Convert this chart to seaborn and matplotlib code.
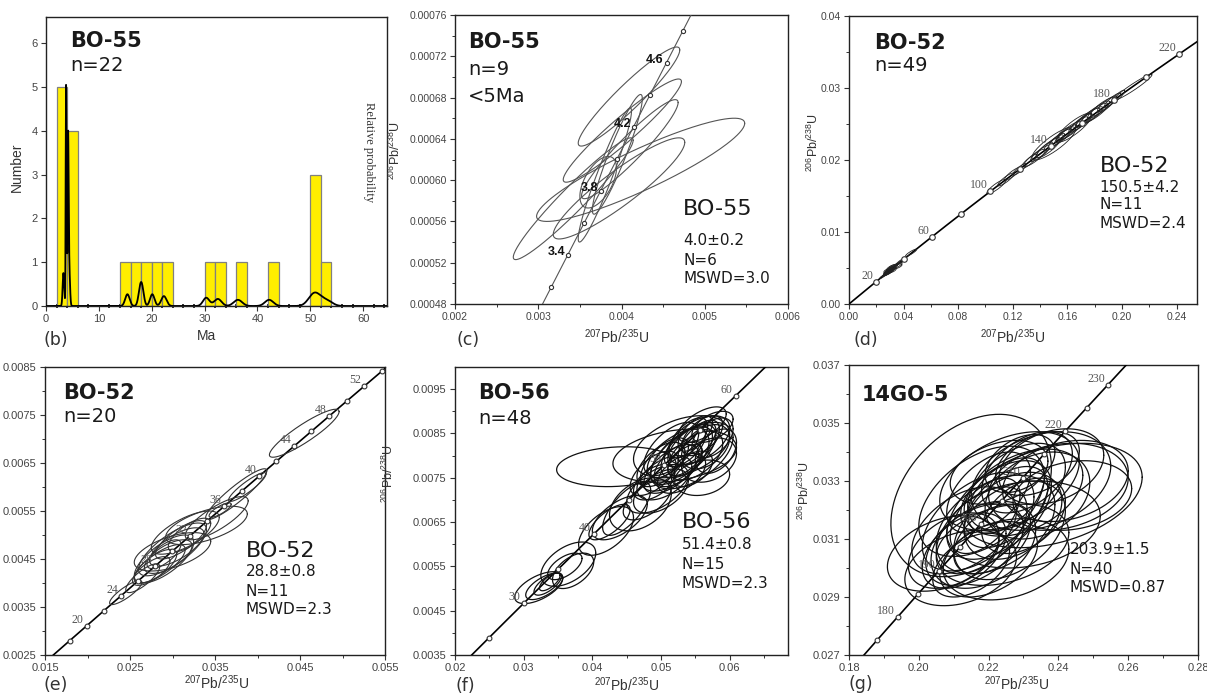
import numpy as np
import pandas as pd
import matplotlib
matplotlib.use("Agg")
import matplotlib.pyplot as plt
import seaborn as sns

# ---------------- data ----------------
# (b) BO-55 single grain ages (Ma) and 1-sigma errors
b_ages = [3.3, 3.75, 3.8, 3.85, 3.9, 4.15, 4.2, 4.25, 4.4,
          15.4, 17.8, 18.2, 20.1, 22.3, 30.3, 32.5, 36.3, 42.2,
          50.3, 50.8, 51.5, 53.2]
b_sigma = [0.15, 0.06, 0.06, 0.08, 0.10, 0.07, 0.08, 0.10, 0.15,
           0.42, 0.35, 0.35, 0.42, 0.50, 0.60, 0.70, 0.80, 0.80,
           1.0, 1.0, 1.0, 1.0]
b_bin_edges = list(range(0, 66, 2))

# decay constants (1/Ma)
L235 = 9.8485e-4
L238 = 1.55125e-4

# (c) BO-55 (<5 Ma) ellipses: centre, half-extent in x / y, correlation
c_cx = [0.00409, 0.00401, 0.00410, 0.00423, 0.00397, 0.00342, 0.00380, 0.00372, 0.00395]
c_cy = [0.000681, 0.000648, 0.000630, 0.000610, 0.000592, 0.000582, 0.000605, 0.000598, 0.000625]
c_sx = [0.00061, 0.00071, 0.00058, 0.00125, 0.00079, 0.00072, 0.00032, 0.00022, 0.00030]
c_sy = [0.000048, 0.000050, 0.000048, 0.000050, 0.000049, 0.000059, 0.000065, 0.000025, 0.000058]
c_rho = [0.94, 0.95, 0.94, 0.90, 0.91, 0.96, 0.95, 0.55, 0.93]
c_marks = [3.2, 3.4, 3.6, 3.8, 4.0, 4.2, 4.4, 4.6, 4.8]
c_labels = [3.4, 3.8, 4.2, 4.6]

# (e) BO-52 young grains (also part of panel d)
e_cx = [0.0455, 0.0375, 0.0388, 0.0340, 0.0352, 0.0356, 0.0245,
        0.0300, 0.0290, 0.0285, 0.0280, 0.0295, 0.0305, 0.0290, 0.0275,
        0.0310, 0.0320, 0.0265, 0.0300, 0.0315]
e_cy = [0.00712, 0.00585, 0.00600, 0.00520, 0.00535, 0.00552, 0.00380,
        0.00470, 0.00450, 0.00440, 0.00435, 0.00455, 0.00475, 0.00460, 0.00425,
        0.00490, 0.00500, 0.00410, 0.00465, 0.00505]
e_sx = [0.0041, 0.0036, 0.0022, 0.0048, 0.0037, 0.0013, 0.0019,
        0.0040, 0.0035, 0.0030, 0.0025, 0.0028, 0.0032, 0.0020, 0.0022,
        0.0030, 0.0025, 0.0020, 0.0045, 0.0040]
e_sy = [0.00050, 0.00053, 0.00030, 0.00040, 0.00045, 0.00015, 0.00025,
        0.00055, 0.00050, 0.00040, 0.00035, 0.00035, 0.00040, 0.00030, 0.00030,
        0.00040, 0.00035, 0.00030, 0.00040, 0.00045]
e_rho = [0.90, 0.92, 0.90, 0.60, 0.80, 0.80, 0.85,
         0.75, 0.70, 0.75, 0.70, 0.65, 0.70, 0.70, 0.70,
         0.75, 0.70, 0.80, 0.55, 0.70]
e_marks = list(range(18, 56, 2))
e_labels = [20, 24, 28, 32, 36, 40, 44, 48, 52]

# (d) BO-52 older grains (together with the young ones above: n=49)
d_cx = [0.108, 0.115, 0.120, 0.125, 0.132, 0.136, 0.140, 0.143, 0.146, 0.150,
        0.150, 0.152, 0.155, 0.157, 0.160, 0.162, 0.165, 0.168, 0.170, 0.172,
        0.175, 0.178, 0.180, 0.183, 0.186, 0.189, 0.193, 0.197, 0.208]
d_cy = [0.0163, 0.0173, 0.0181, 0.0187, 0.0198, 0.0203, 0.0209, 0.0214, 0.0217, 0.0223,
        0.0224, 0.0227, 0.0231, 0.0234, 0.0238, 0.0241, 0.0245, 0.0249, 0.0252, 0.0255,
        0.0259, 0.0262, 0.0265, 0.0270, 0.0274, 0.0278, 0.0283, 0.0288, 0.0301]
d_sx = [0.007, 0.006, 0.006, 0.005, 0.006, 0.008, 0.007, 0.006, 0.009, 0.016,
        0.007, 0.006, 0.008, 0.006, 0.007, 0.009, 0.013, 0.007, 0.008, 0.006,
        0.009, 0.008, 0.010, 0.008, 0.009, 0.007, 0.006, 0.005, 0.014]
d_sy = [0.0010, 0.0009, 0.0009, 0.0008, 0.0010, 0.0012, 0.0011, 0.0011, 0.0014, 0.0023,
        0.0011, 0.0010, 0.0012, 0.0010, 0.0011, 0.0013, 0.0020, 0.0011, 0.0012, 0.0010,
        0.0013, 0.0012, 0.0014, 0.0012, 0.0013, 0.0011, 0.0010, 0.0009, 0.0018]
d_rho = [0.88, 0.88, 0.88, 0.87, 0.87, 0.87, 0.86, 0.86, 0.86, 0.85,
         0.86, 0.87, 0.86, 0.87, 0.86, 0.86, 0.85, 0.87, 0.86, 0.87,
         0.86, 0.86, 0.86, 0.87, 0.86, 0.87, 0.88, 0.88, 0.96]
d_marks = list(range(20, 240, 20))
d_labels = [20, 60, 100, 140, 180, 220]

# (f) BO-56
f_cx = [0.0322, 0.0330, 0.0335, 0.0338, 0.0365, 0.0360, 0.0372, 0.0420, 0.0425, 0.0440,
        0.0450, 0.0470, 0.0435, 0.0500, 0.0480, 0.0520, 0.0530, 0.0540, 0.0525, 0.0515,
        0.0535, 0.0545, 0.0550, 0.0510, 0.0500, 0.0555, 0.0560, 0.0550, 0.0540, 0.0490,
        0.0505, 0.0530, 0.0545, 0.0565, 0.0575, 0.0570, 0.0560, 0.0520, 0.0530, 0.0545,
        0.0555, 0.0490, 0.0495, 0.0515, 0.0560, 0.0575, 0.0580, 0.0535]
f_cy = [0.00502, 0.00505, 0.00510, 0.00515, 0.00555, 0.00550, 0.00540, 0.00630, 0.00650, 0.00660,
        0.00680, 0.00690, 0.00775, 0.00720, 0.00700, 0.00790, 0.00800, 0.00810, 0.00780, 0.00770,
        0.00820, 0.00825, 0.00800, 0.00795, 0.00780, 0.00830, 0.00845, 0.00850, 0.00840, 0.00760,
        0.00750, 0.00760, 0.00770, 0.00820, 0.00840, 0.00790, 0.00750, 0.00800, 0.00820, 0.00800,
        0.00835, 0.00740, 0.00725, 0.00815, 0.00870, 0.00865, 0.00810, 0.00790]
f_sx = [0.0035, 0.0027, 0.0020, 0.0015, 0.0040, 0.0025, 0.0030, 0.0040, 0.0030, 0.0040,
        0.0035, 0.0045, 0.0087, 0.0040, 0.0035, 0.0050, 0.0045, 0.0040, 0.0035, 0.0040,
        0.0030, 0.0035, 0.0040, 0.0030, 0.0035, 0.0030, 0.0030, 0.0025, 0.0028, 0.0035,
        0.0040, 0.0035, 0.0030, 0.0035, 0.0030, 0.0040, 0.0040, 0.0090, 0.0070, 0.0060,
        0.0045, 0.0030, 0.0045, 0.0040, 0.0035, 0.0030, 0.0030, 0.0025]
f_sy = [0.00036, 0.00030, 0.00025, 0.00020, 0.00050, 0.00030, 0.00040, 0.00055, 0.00040, 0.00050,
        0.00060, 0.00060, 0.00045, 0.00050, 0.00045, 0.00070, 0.00065, 0.00060, 0.00050, 0.00055,
        0.00045, 0.00050, 0.00055, 0.00045, 0.00050, 0.00050, 0.00045, 0.00040, 0.00045, 0.00050,
        0.00050, 0.00045, 0.00040, 0.00050, 0.00045, 0.00050, 0.00040, 0.00060, 0.00070, 0.00075,
        0.00055, 0.00040, 0.00055, 0.00060, 0.00040, 0.00035, 0.00050, 0.00035]
f_rho = [0.60, 0.65, 0.70, 0.70, 0.50, 0.60, 0.50, 0.55, 0.70, 0.60,
         0.70, 0.40, 0.15, 0.50, 0.60, 0.60, 0.65, 0.60, 0.55, 0.60,
         0.60, 0.65, 0.50, 0.55, 0.55, 0.60, 0.55, 0.60, 0.60, 0.60,
         0.50, 0.50, 0.45, 0.40, 0.45, 0.30, 0.20, 0.30, 0.40, 0.55,
         0.50, 0.50, 0.55, 0.60, 0.60, 0.50, 0.40, 0.60]
f_marks = list(range(25, 65, 5))
f_labels = [30, 40, 50, 60]

# (g) 14GO-5
g_cx = [0.2150, 0.2380, 0.2070, 0.2120, 0.2230, 0.2180, 0.2280, 0.2250, 0.2160, 0.2220,
        0.2300, 0.2350, 0.2400, 0.2420, 0.2240, 0.2300, 0.2200, 0.2130, 0.2190, 0.2250,
        0.2310, 0.2340, 0.2260, 0.2180, 0.2170, 0.2270, 0.2210, 0.2150, 0.2340, 0.2290,
        0.2230, 0.2380, 0.2185, 0.2260, 0.2130, 0.2300, 0.2200, 0.2440, 0.2100, 0.2250]
g_cy = [0.03250, 0.03250, 0.03050, 0.03000, 0.03200, 0.03130, 0.03280, 0.03210, 0.03080, 0.03150,
        0.03260, 0.03300, 0.03280, 0.03300, 0.03080, 0.03150, 0.03030, 0.03060, 0.03180, 0.03250,
        0.03330, 0.03360, 0.03300, 0.03230, 0.03160, 0.03180, 0.03100, 0.03010, 0.03250, 0.03360,
        0.03330, 0.03350, 0.03080, 0.03130, 0.03130, 0.03180, 0.03260, 0.03250, 0.03060, 0.03030]
g_sx = [0.0230, 0.0260, 0.0160, 0.0160, 0.0150, 0.0130, 0.0140, 0.0120, 0.0140, 0.0170,
        0.0170, 0.0200, 0.0200, 0.0180, 0.0190, 0.0220, 0.0140, 0.0120, 0.0100, 0.0110,
        0.0130, 0.0120, 0.0200, 0.0180, 0.0160, 0.0140, 0.0110, 0.0110, 0.0150, 0.0100,
        0.0140, 0.0150, 0.0150, 0.0160, 0.0150, 0.0120, 0.0120, 0.0170, 0.0130, 0.0180]
g_sy = [0.00280, 0.00180, 0.00130, 0.00130, 0.00170, 0.00150, 0.00150, 0.00140, 0.00140, 0.00170,
        0.00150, 0.00170, 0.00150, 0.00140, 0.00140, 0.00150, 0.00130, 0.00130, 0.00130, 0.00130,
        0.00140, 0.00110, 0.00170, 0.00190, 0.00170, 0.00150, 0.00120, 0.00110, 0.00150, 0.00100,
        0.00110, 0.00130, 0.00150, 0.00170, 0.00150, 0.00130, 0.00140, 0.00120, 0.00130, 0.00140]
g_rho = [0.35, 0.35, 0.35, 0.30, 0.50, 0.50, 0.45, 0.50, 0.45, 0.40,
         0.40, 0.30, 0.20, 0.25, 0.30, 0.20, 0.40, 0.45, 0.55, 0.50,
         0.45, 0.40, 0.40, 0.45, 0.50, 0.35, 0.45, 0.45, 0.30, 0.40,
         0.35, 0.30, 0.35, 0.40, 0.45, 0.40, 0.50, 0.20, 0.40, 0.25]
g_marks = list(range(175, 235, 5))
g_labels = [180, 190, 200, 210, 220, 230]

# ---------------- helpers ----------------
sns.set_theme(style="white")
plt.rcParams['font.family'] = ['Liberation Sans', 'DejaVu Sans']
plt.rcParams['mathtext.fontset'] = 'custom'
plt.rcParams['mathtext.rm'] = 'Liberation Sans'

W, H = 1207, 698
fig = plt.figure(figsize=(W / 100, H / 100), dpi=100)
fig.patch.set_facecolor('white')


def pax(l, t, r, b):
    return fig.add_axes([l / W, 1 - b / H, (r - l) / W, (b - t) / H])


def conc(t):
    t = np.asarray(t, dtype=float)
    return np.expm1(L235 * t), np.expm1(L238 * t)


def ellipse_frame(cx, cy, sx, sy, rho, n=180):
    tt = np.linspace(0, 2 * np.pi, n)
    frames = []
    for i, (x0, y0, a, b, r) in enumerate(zip(cx, cy, sx, sy, rho)):
        x = x0 + a * np.cos(tt)
        y = y0 + b * (r * np.cos(tt) + np.sqrt(1 - r * r) * np.sin(tt))
        frames.append(pd.DataFrame({'x': x, 'y': y, 'id': i}))
    return pd.concat(frames, ignore_index=True)


def style(ax, xlim, ylim, xt, xm, yt, ym, xf, yf, lab=7.5):
    ax.set_xlim(xlim)
    ax.set_ylim(ylim)
    ax.set_xticks(xt)
    ax.set_xticks(xm, minor=True)
    ax.set_yticks(yt)
    ax.set_yticks(ym, minor=True)
    ax.set_xticklabels([xf.format(v) for v in xt])
    ax.set_yticklabels([yf.format(v) for v in yt])
    ax.set_xlabel('')
    ax.set_ylabel('')
    for s in ax.spines.values():
        s.set_visible(True)
        s.set_linewidth(1.0)
        s.set_color('#222222')
    ax.tick_params(which='major', direction='out', length=3.5, width=0.8,
                   color='#333333', labelsize=lab, labelcolor='#444444',
                   bottom=True, left=True, pad=2.5)
    ax.tick_params(which='minor', direction='out', length=2, width=0.7,
                   color='#333333', bottom=True, left=True)


def concordia(ax, tmax, marks, labels, lc='black', lw=1.2, ms=12,
              lfont='serif', lbold=False, lsize=8.5, lcolor='#555555',
              off=(-2, 0), va='bottom'):
    tt = np.linspace(0, tmax, 3000)
    x, y = conc(tt)
    sns.lineplot(x=x, y=y, sort=False, color=lc, lw=lw, ax=ax, zorder=3)
    mx, my = conc(marks)
    sns.scatterplot(x=mx, y=my, s=ms, color='white', edgecolor='#333333',
                    linewidth=0.8, ax=ax, zorder=6)
    lx, ly = conc(labels)
    for v, xx, yy in zip(labels, lx, ly):
        ax.annotate(f"{v:g}", (xx, yy), xytext=off, textcoords='offset points',
                    ha='right', va=va, fontsize=lsize, color=lcolor,
                    family='Liberation Serif' if lfont == 'serif' else 'Liberation Sans',
                    fontweight='bold' if lbold else 'normal', zorder=7)


def draw_ellipses(ax, df, color, lw):
    sns.lineplot(data=df, x='x', y='y', units='id', estimator=None, sort=False,
                 color=color, lw=lw, ax=ax, legend=False, zorder=4)


def titles(ax, bold, n, x=0.06, ybold=0.945, yn=0.86, extra=None):
    ax.text(x, ybold, bold, transform=ax.transAxes, ha='left', va='top',
            fontsize=15, fontweight='bold', family='DejaVu Sans', color='#1a1a1a')
    ax.text(x, yn, n, transform=ax.transAxes, ha='left', va='top',
            fontsize=14, family='DejaVu Sans', color='#1a1a1a')
    if extra:
        ax.text(x, extra[1], extra[0], transform=ax.transAxes, ha='left', va='top',
                fontsize=14, family='DejaVu Sans', color='#1a1a1a')


def stats(ax, x, lines, ys, big=None):
    if big:
        ax.text(x, big[1], big[0], transform=ax.transAxes, ha='left', va='top',
                fontsize=16, family='DejaVu Sans', color='#1a1a1a')
    for s, y in zip(lines, ys):
        ax.text(x, y, s, transform=ax.transAxes, ha='left', va='top',
                fontsize=11, family='DejaVu Sans', color='#1a1a1a')


XL = r'$^{207}$Pb/$^{235}$U'
YL = r'$^{206}$Pb/$^{238}$U'


def flabel(x, y, s, size=10, rot=0, **kw):
    fig.text(x / W, 1 - y / H, s, ha='center', va='center', fontsize=size,
             rotation=rot, color='#333333', **kw)


# ---------------- (b) histogram ----------------
axb = pax(46, 17, 387, 306)
sns.histplot(x=b_ages, bins=b_bin_edges, color='#FFEE00', edgecolor='#808080',
             linewidth=0.9, alpha=1.0, ax=axb, zorder=2)
grid = np.linspace(0, 64.5, 4000)
dens = np.zeros_like(grid)
for a, s in zip(b_ages, b_sigma):
    dens += np.exp(-0.5 * ((grid - a) / s) ** 2) / (s * np.sqrt(2 * np.pi))
dens = dens / dens.max() * 5.05
sns.lineplot(x=grid, y=dens, color='black', lw=1.3, ax=axb, zorder=3)
style(axb, (0, 64.5), (0, 6.6), list(range(0, 70, 10)), list(range(0, 66, 2)),
      list(range(0, 7)), [], "{:g}", "{:g}", lab=8)
axb.tick_params(which='minor', direction='inout', length=3, width=1.4)
axb.text(0.072, 0.95, 'BO-55', transform=axb.transAxes, ha='left', va='top',
         fontsize=15, fontweight='bold', family='DejaVu Sans', color='#1a1a1a')
axb.text(0.072, 0.865, 'n=22', transform=axb.transAxes, ha='left', va='top',
         fontsize=14, family='DejaVu Sans', color='#1a1a1a')
flabel(369, 152, 'Relative probability', size=9, rot=-90, family='Liberation Serif')
flabel(17, 167, 'Number', size=10, rot=90)
flabel(207, 336, 'Ma', size=10)
flabel(56, 340, '(b)', size=12.5, family='DejaVu Sans')

# ---------------- (c) ----------------
axc = pax(455, 15, 788, 304)
draw_ellipses(axc, ellipse_frame(c_cx, c_cy, c_sx, c_sy, c_rho), '#555555', 0.8)
concordia(axc, 6, c_marks, c_labels, lc='#555555', lw=0.8, ms=9,
          lfont='sans', lbold=True, lsize=9, lcolor='#111111', off=(-2, 2), va='center')
style(axc, (0.002, 0.006), (0.00048, 0.00076),
      np.round(np.arange(0.002, 0.00601, 0.001), 4),
      np.round(np.arange(0.002, 0.00601, 0.0005), 5),
      np.round(np.arange(0.00048, 0.000761, 0.00004), 6),
      np.round(np.arange(0.00048, 0.000761, 0.00002), 6), "{:.3f}", "{:.5f}")
titles(axc, 'BO-55', 'n=9', x=0.04, ybold=0.94, yn=0.845, extra=('<5Ma', 0.75))
stats(axc, 0.685, ['4.0\u00b10.2', 'N=6', 'MSWD=3.0'], [0.245, 0.175, 0.115],
      big=('BO-55', 0.365))
flabel(395, 150, YL, size=9, rot=90)
flabel(617, 337, XL, size=10)
flabel(468, 340, '(c)', size=12.5, family='DejaVu Sans')

# ---------------- (d) ----------------
axd = pax(849, 16, 1197, 304)
draw_ellipses(axd, ellipse_frame(e_cx + d_cx, e_cy + d_cy, e_sx + d_sx,
                                 e_sy + d_sy, e_rho + d_rho), '#222222', 0.6)
concordia(axd, 260, d_marks, d_labels, ms=16)
style(axd, (0, 0.255), (0, 0.04),
      np.round(np.arange(0, 0.2401, 0.04), 2), np.round(np.arange(0, 0.255, 0.02), 2),
      np.round(np.arange(0, 0.0401, 0.01), 2), np.round(np.arange(0, 0.0401, 0.005), 3),
      "{:.2f}", "{:.2f}")
titles(axd, 'BO-52', 'n=49', x=0.072, ybold=0.94, yn=0.86)
stats(axd, 0.72, ['150.5\u00b14.2', 'N=11', 'MSWD=2.4'], [0.43, 0.37, 0.305],
      big=('BO-52', 0.515))
flabel(813, 142, YL, size=9, rot=90)
flabel(1013, 337, XL, size=10)
flabel(866, 340, '(d)', size=12.5, family='DejaVu Sans')

# ---------------- (e) ----------------
axe = pax(45, 367, 385, 655)
draw_ellipses(axe, ellipse_frame(e_cx, e_cy, e_sx, e_sy, e_rho), '#333333', 0.8)
concordia(axe, 70, e_marks, e_labels, ms=12)
style(axe, (0.015, 0.055), (0.0025, 0.0085),
      np.round(np.arange(0.015, 0.0551, 0.01), 3), np.round(np.arange(0.015, 0.0551, 0.005), 4),
      np.round(np.arange(0.0025, 0.00851, 0.001), 4), np.round(np.arange(0.0025, 0.00851, 0.0005), 5),
      "{:.3f}", "{:.4f}", lab=8)
titles(axe, 'BO-52', 'n=20', x=0.053, ybold=0.945, yn=0.86)
stats(axe, 0.59, ['28.8\u00b10.8', 'N=11', 'MSWD=2.3'], [0.315, 0.245, 0.185],
      big=('BO-52', 0.395))
flabel(217, 683, XL, size=10)
flabel(56, 685, '(e)', size=12.5, family='DejaVu Sans')

# ---------------- (f) ----------------
axf = pax(455, 367, 788, 655)
draw_ellipses(axf, ellipse_frame(f_cx, f_cy, f_sx, f_sy, f_rho), '#111111', 0.9)
concordia(axf, 75, f_marks, f_labels, ms=12)
style(axf, (0.02, 0.0685), (0.0035, 0.0100),
      np.round(np.arange(0.02, 0.0601, 0.01), 2), np.round(np.arange(0.02, 0.0686, 0.005), 3),
      np.round(np.arange(0.0035, 0.00951, 0.001), 4), np.round(np.arange(0.0035, 0.0100, 0.0005), 5),
      "{:.2f}", "{:.4f}", lab=8)
titles(axf, 'BO-56', 'n=48', x=0.07, ybold=0.945, yn=0.855)
stats(axf, 0.68, ['51.4\u00b10.8', 'N=15', 'MSWD=2.3'], [0.41, 0.34, 0.275],
      big=('BO-56', 0.495))
flabel(388, 473, YL, size=9, rot=90)
flabel(627, 685, XL, size=10)
flabel(465, 686, '(f)', size=12.5, family='DejaVu Sans')

# ---------------- (g) ----------------
axg = pax(849, 365, 1198, 655)
draw_ellipses(axg, ellipse_frame(g_cx, g_cy, g_sx, g_sy, g_rho), '#111111', 0.9)
concordia(axg, 260, g_marks, g_labels, ms=12)
style(axg, (0.18, 0.28), (0.027, 0.037),
      np.round(np.arange(0.18, 0.2801, 0.02), 2), np.round(np.arange(0.18, 0.2801, 0.01), 2),
      np.round(np.arange(0.027, 0.0371, 0.002), 3), np.round(np.arange(0.027, 0.0371, 0.001), 3),
      "{:.2f}", "{:.3f}", lab=8)
axg.text(0.037, 0.93, '14GO-5', transform=axg.transAxes, ha='left', va='top',
         fontsize=15, fontweight='bold', family='DejaVu Sans', color='#1a1a1a')
stats(axg, 0.633, ['203.9\u00b11.5', 'N=40', 'MSWD=0.87'], [0.39, 0.32, 0.26])
flabel(804, 490, YL, size=9, rot=90)
flabel(1017, 684, XL, size=10)
flabel(861, 684, '(g)', size=12.5, family='DejaVu Sans')

fig.savefig('out.png', dpi=100, facecolor='white')
